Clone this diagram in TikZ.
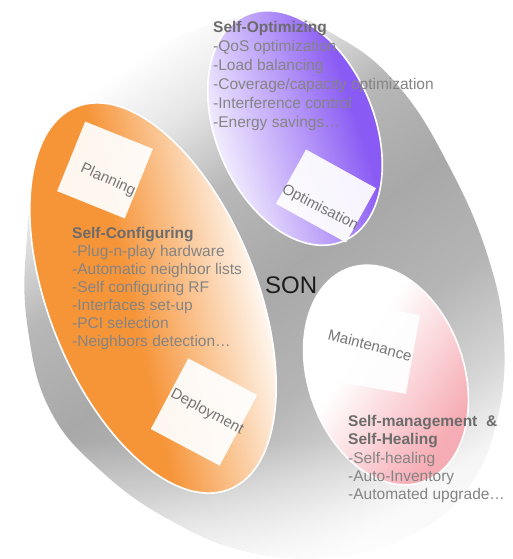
\documentclass[tikz,border=0pt]{standalone}
\usepackage{fontspec}
\setmainfont{Liberation Sans}
\usetikzlibrary{fadings}
\definecolor{sonorange}{RGB}{246,148,56}
\definecolor{sonpurple}{RGB}{138,90,244}
\definecolor{sonpink}{RGB}{246,172,180}
\definecolor{txtgray}{RGB}{132,132,132}
\definecolor{hdgray}{RGB}{108,108,108}
\definecolor{boxtxt}{RGB}{118,118,118}
\definecolor{sontxt}{RGB}{28,28,28}
\pgfdeclareverticalshading{sonbg}{100bp}{color(0bp)=(black!4); color(25bp)=(black!4); color(31bp)=(black!16); color(40bp)=(black!29); color(50bp)=(black!34); color(60bp)=(black!28); color(68bp)=(black!10); color(75bp)=(white); color(100bp)=(white)}
\pgfdeclareverticalshading{sonofade}{100bp}{color(0bp)=(white); color(30bp)=(white); color(42bp)=(sonorange!50!white); color(54bp)=(sonorange); color(100bp)=(sonorange)}
\pgfdeclareverticalshading{sonpfade}{100bp}{color(0bp)=(white); color(26bp)=(white); color(38bp)=(sonpurple!30!white); color(52bp)=(sonpurple!65!white); color(65bp)=(sonpurple); color(100bp)=(sonpurple)}
\pgfdeclareverticalshading{sonkfade}{100bp}{color(0bp)=(white); color(40bp)=(white); color(55bp)=(sonpink!50!white); color(70bp)=(sonpink); color(100bp)=(sonpink)}
\tikzset{
  ellborder/.style={draw=white, line width=1.6pt},
  whitebox/.style={fill=white, fill opacity=0.93, draw=none, inner sep=0pt},
  boxlabel/.style={text=boxtxt, font=\fontsize{15}{18}\selectfont, inner sep=0pt},
  listtext/.style={text=txtgray, align=left, anchor=north west, inner sep=0pt},
}
\begin{document}
\begin{tikzpicture}[x=1pt,y=-1pt]
\useasboundingbox (0,0) rectangle (513,559);
\fill[white] (0,0) rectangle (513,559);
% big background disk
\shade[shading=sonbg, shading angle=36] plot[smooth cycle, tension=0.7] coordinates {(270,14) (340,38) (400,88) (450,168) (488,257) (504,340) (497,420) (470,485) (420,530) (340,556) (250,552) (170,520) (100,470) (50,410) (28,330) (26,250) (40,170) (90,95) (170,40)};
\begin{scope}
\clip plot[smooth cycle, tension=0.7] coordinates {(270,14) (340,38) (400,88) (450,168) (488,257) (504,340) (497,420) (470,485) (420,530) (340,556) (250,552) (170,520) (100,470) (50,410) (28,330) (26,250) (40,170) (90,95) (170,40)};
\fill[white, path fading=north, fill opacity=0.9] (0,440) rectangle (513,570);
\end{scope}
% coloured ellipses
\shade[shading=sonofade, shading angle=103, rotate around={21.8:(153,298)}] (153,298) ellipse [x radius=104, y radius=206];
\draw[ellborder, rotate around={21.8:(153,298)}] (153,298) ellipse [x radius=104, y radius=206];
\shade[shading=sonpfade, shading angle=-72, rotate around={23.2:(295,128)}] (295,128) ellipse [x radius=79, y radius=123];
\draw[ellborder, rotate around={23.2:(295,128)}] (295,128) ellipse [x radius=79, y radius=123];
\shade[shading=sonkfade, shading angle=-124, rotate around={19:(386,375)}] (386,375) ellipse [x radius=78, y radius=113];
\draw[ellborder, rotate around={19:(386,375)}] (386,375) ellipse [x radius=78, y radius=113];
% white boxes
\node[whitebox, rotate=-22, minimum width=73pt, minimum height=75pt] (planbox) at (105,170) {};
\node[whitebox, rotate=-28, minimum width=78pt, minimum height=80pt] (depbox) at (204,412) {};
\node[whitebox, rotate=-29, minimum width=80pt, minimum height=62pt] (optbox) at (326,196) {};
\node[whitebox, rotate=-10, minimum width=85pt, minimum height=80pt] (mntbox) at (371,347) {};
\node[boxlabel, rotate=-24] (planlbl) at (108,180) {Planning};
\node[boxlabel, rotate=-28] (deplbl) at (207,412) {Deployment};
\node[boxlabel, rotate=-27] (optlbl) at (320,208) {Optimisation};
\node[boxlabel, rotate=-15] (mntlbl) at (370,345) {Maintenance};
% texts
\node[listtext, font=\fontsize{15.5}{19}\selectfont] (opttext) at (213,21.5) {{\color{hdgray}\bfseries Self-Optimizing}\\-QoS optimization\\-Load balancing\\-Coverage/capacity optimization\\-Interference control\\-Energy savings…};
\node[listtext, font=\fontsize{15.5}{18}\selectfont] (cfgtext) at (72,227.5) {{\color{hdgray}\bfseries Self-Configuring}\\-Plug-n-play hardware\\-Automatic neighbor lists\\-Self configuring RF\\-Interfaces set-up\\-PCI selection\\-Neighbors detection…};
\node[listtext, font=\fontsize{15.5}{18.3}\selectfont] (mgttext) at (348,415) {{\color{hdgray}\bfseries Self-management\ \ \&}\\{\color{hdgray}\bfseries Self-Healing}\\-Self-healing\\-Auto-Inventory\\-Automated upgrade…};
\node[anchor=base west, font=\fontsize{24}{28}\selectfont, text=sontxt, inner sep=0pt] (son) at (265,293) {SON};
\end{tikzpicture}
\end{document}
